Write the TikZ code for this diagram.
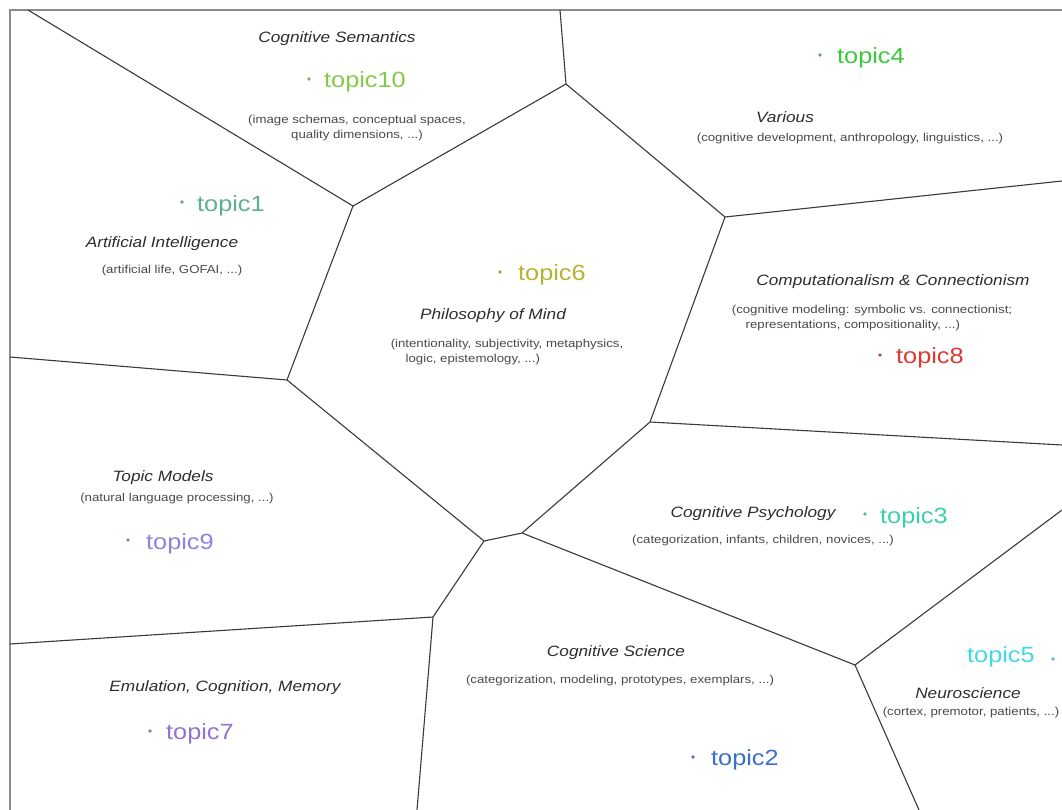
\documentclass[tikz,border=0pt]{standalone}
\usepackage{fontspec}
\setmainfont{Liberation Sans}[FakeStretch=1.15]
\begin{document}
\definecolor{edge}{HTML}{3A3A3A}
\definecolor{frame}{HTML}{8C8C8C}
\definecolor{titlecol}{HTML}{2E2E2E}
\definecolor{desccol}{HTML}{4A4A4A}
\definecolor{cTen}{HTML}{86C84A}
\definecolor{cFour}{HTML}{3CC83C}
\definecolor{cOne}{HTML}{5FAE94}
\definecolor{cSix}{HTML}{B4B432}
\definecolor{cEight}{HTML}{DC3A30}
\definecolor{cNine}{HTML}{8A84DC}
\definecolor{cThree}{HTML}{3CCFAE}
\definecolor{cTwo}{HTML}{3A70C8}
\definecolor{cFive}{HTML}{42DAE2}
\definecolor{cSeven}{HTML}{9274C8}
\begin{tikzpicture}[x=1pt,y=-1pt,
  cell/.style={draw=edge,line width=1.1pt},
  border/.style={draw=frame,line width=1.4pt},
  area/.style={font=\fontsize{15}{18}\selectfont\itshape,text=titlecol,inner sep=0pt},
  desc/.style={font=\fontsize{11.5}{14.5}\selectfont,text=desccol,inner sep=0pt,align=center},
  topic/.style={font=\fontsize{22}{26}\selectfont,inner sep=0pt,anchor=west},
  seed/.style={circle,fill=#1,inner sep=0pt,minimum size=3.6pt}]
\useasboundingbox (0,0) rectangle (1062,810);
\fill[white] (0,0) rectangle (1062,810);

% outer frame
\coordinate (fTL) at (10,10);
\coordinate (fTR) at (1062,10);
\coordinate (fBL) at (10,810);
\draw[border] (fBL) -- (fTL) -- (fTR);

% Voronoi vertices
\coordinate (A) at (353,206);
\coordinate (B) at (566,84);
\coordinate (C) at (725,217);
\coordinate (D) at (287,380);
\coordinate (E) at (484,541);
\coordinate (F) at (650,422);
\coordinate (G) at (522,533);
\coordinate (H) at (433,617);
\coordinate (I) at (855,665);
% where the edges leave the frame
\coordinate (tA) at (28,10);
\coordinate (tB) at (560,10);
\coordinate (rC) at (1062,181);
\coordinate (lD) at (10,357);
\coordinate (rF) at (1062,445);
\coordinate (lH) at (10,644);
\coordinate (bH) at (417,810);
\coordinate (rI) at (1062,510);
\coordinate (bI) at (919,810);

% cell edges
\draw[cell] (tA) -- (A) -- (B) -- (tB);
\draw[cell] (B) -- (C) -- (rC);
\draw[cell] (A) -- (D) -- (lD);
\draw[cell] (D) -- (E) -- (G) -- (F) -- (C);
\draw[cell] (F) -- (rF);
\draw[cell] (E) -- (H) -- (lH);
\draw[cell] (H) -- (bH);
\draw[cell] (G) -- (I) -- (rI);
\draw[cell] (I) -- (bI);

% Cognitive Semantics
\node[area] (semT) at (337,39) {Cognitive Semantics};
\node[seed=cTen!70!gray] (s10) at (309,79) {};
\node[topic,text=cTen] (t10) at (324,82) {topic10};
\node[desc] (semD) at (357,128) {(image schemas, conceptual spaces,\\quality dimensions, ...)};

% Various
\node[seed=cFour!70!gray] (s4) at (820,55) {};
\node[topic,text=cFour] (t4) at (837,58) {topic4};
\node[area] (varT) at (785,117) {Various};
\node[desc] (varD) at (850,139) {(cognitive development, anthropology, linguistics, ...)};

% Artificial Intelligence
\node[seed=cOne!70!gray] (s1) at (182,202) {};
\node[topic,text=cOne] (t1) at (197,206) {topic1};
\node[area] (aiT) at (162,244) {Artificial Intelligence};
\node[desc] (aiD) at (172,271) {(artificial life, GOFAI, ...)};

% Philosophy of Mind
\node[seed=cSix!70!gray] (s6) at (500,272) {};
\node[topic,text=cSix] (t6) at (518,275) {topic6};
\node[area] (phT) at (493,316) {Philosophy of Mind};
\node[desc,align=left] (phD) at (507,352) {(intentionality, subjectivity, metaphysics,\\\hspace*{1.3em}logic, epistemology, ...)};

% Computationalism & Connectionism
\node[area] (ccT) at (893,282) {Computationalism \& Connectionism};
\node[desc,align=left] (ccD) at (872,318) {(cognitive modeling: symbolic vs. connectionist;\\\hspace*{1.2em}representations, compositionality, ...)};
\node[seed=cEight!70!gray] (s8) at (880,355) {};
\node[topic,text=cEight] (t8) at (896,358) {topic8};

% Topic Models
\node[area] (tmT) at (163,478) {Topic Models};
\node[desc] (tmD) at (177,499) {(natural language processing, ...)};
\node[seed=cNine!70!gray] (s9) at (128,540) {};
\node[topic,text=cNine] (t9) at (146,544) {topic9};

% Cognitive Psychology
\node[area] (cpT) at (753,514) {Cognitive Psychology};
\node[seed=cThree!70!gray] (s3) at (865,514) {};
\node[topic,text=cThree] (t3) at (880,518) {topic3};
\node[desc] (cpD) at (763,541) {(categorization, infants, children, novices, ...)};

% Cognitive Science
\node[area] (csT) at (616,653) {Cognitive Science};
\node[desc] (csD) at (620,681) {(categorization, modeling, prototypes, exemplars, ...)};
\node[seed=cTwo!70!gray] (s2) at (693,757) {};
\node[topic,text=cTwo] (t2) at (711,760) {topic2};

% Neuroscience
\node[topic,text=cFive] (t5) at (967,657) {topic5};
\node[seed=cFive!70!gray] (s5) at (1053,659) {};
\node[area] (nsT) at (968,693) {Neuroscience};
\node[desc] (nsD) at (971,713) {(cortex, premotor, patients, ...)};

% Emulation, Cognition, Memory
\node[area] (ecT) at (225,688) {Emulation, Cognition, Memory};
\node[seed=cSeven!70!gray] (s7) at (150,731) {};
\node[topic,text=cSeven] (t7) at (166,734) {topic7};
\end{tikzpicture}
\end{document}
